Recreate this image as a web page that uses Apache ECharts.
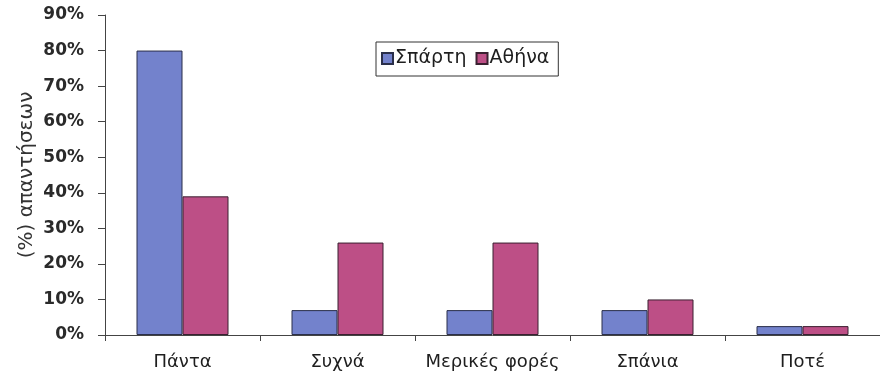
<!DOCTYPE html>
<html>
<head>
<meta charset="utf-8">
<script src="https://cdn.jsdelivr.net/npm/echarts@6/dist/echarts.min.js"></script>
<style>html,body{margin:0;padding:0;background:#fff;}#c{width:880px;height:382px;}</style>
</head>
<body>
<div id="c"></div>
<script>
var categories = ['Πάντα', 'Συχνά', 'Μερικές φορές', 'Σπάνια', 'Ποτέ'];
var sparti = [80, 7, 7, 7, 2.5];
var athina = [39, 26, 26, 10, 2.5];
var seriesNames = ['Σπάρτη', 'Αθήνα'];
var yTicksMax = 90;
var yTickStep = 10;
var yAxisTitle = '(%) απαντήσεων';

var chart = echarts.init(document.getElementById('c'), null, {renderer: 'canvas'});
var font = 'DejaVu Sans, sans-serif';
chart.setOption({
  animation: false,
  backgroundColor: '#ffffff',
  grid: {left: 105, right: 0, top: 15, height: 320},
  legend: {
    data: seriesNames,
    left: 376, top: 42,
    orient: 'horizontal',
    itemWidth: 11, itemHeight: 11, itemGap: 9,
    padding: [7, 9, 8, 5],
    borderColor: '#333', borderWidth: 1,
    textStyle: {fontFamily: font, fontSize: 19, color: '#1e1e1e', padding: [0, 0, 0, -3]},
    icon: 'rect'
  },
  xAxis: {
    type: 'category',
    data: categories,
    axisLine: {lineStyle: {color: '#444', width: 1}},
    axisTick: {show: true, length: 6, interval: 0, lineStyle: {color: '#444'}},
    axisLabel: {fontFamily: font, fontSize: 18, color: '#1e1e1e', margin: 18, interval: 0}
  },
  yAxis: {
    type: 'value',
    min: 0, max: yTicksMax, interval: yTickStep,
    name: yAxisTitle,
    nameLocation: 'middle',
    nameGap: 68,
    nameMoveOverlap: false,
    nameRotate: 90,
    nameTextStyle: {fontFamily: font, fontSize: 20, color: '#333'},
    axisLine: {show: true, lineStyle: {color: '#444', width: 1}},
    axisTick: {show: true, length: 7, lineStyle: {color: '#444'}},
    splitLine: {show: false},
    axisLabel: {fontFamily: font, fontSize: 17, fontWeight: 'bold', color: '#2a2a2a', margin: 21,
      formatter: '{value}%'}
  },
  series: [
    {name: seriesNames[0], type: 'bar', data: sparti, barWidth: 46, barGap: '0%',
     itemStyle: {color: '#7382cc', borderColor: '#2a2f4a', borderWidth: 1}},
    {name: seriesNames[1], type: 'bar', data: athina, barWidth: 46,
     itemStyle: {color: '#bd4f86', borderColor: '#3a2030', borderWidth: 1}}
  ]
});
</script>
</body>
</html>
